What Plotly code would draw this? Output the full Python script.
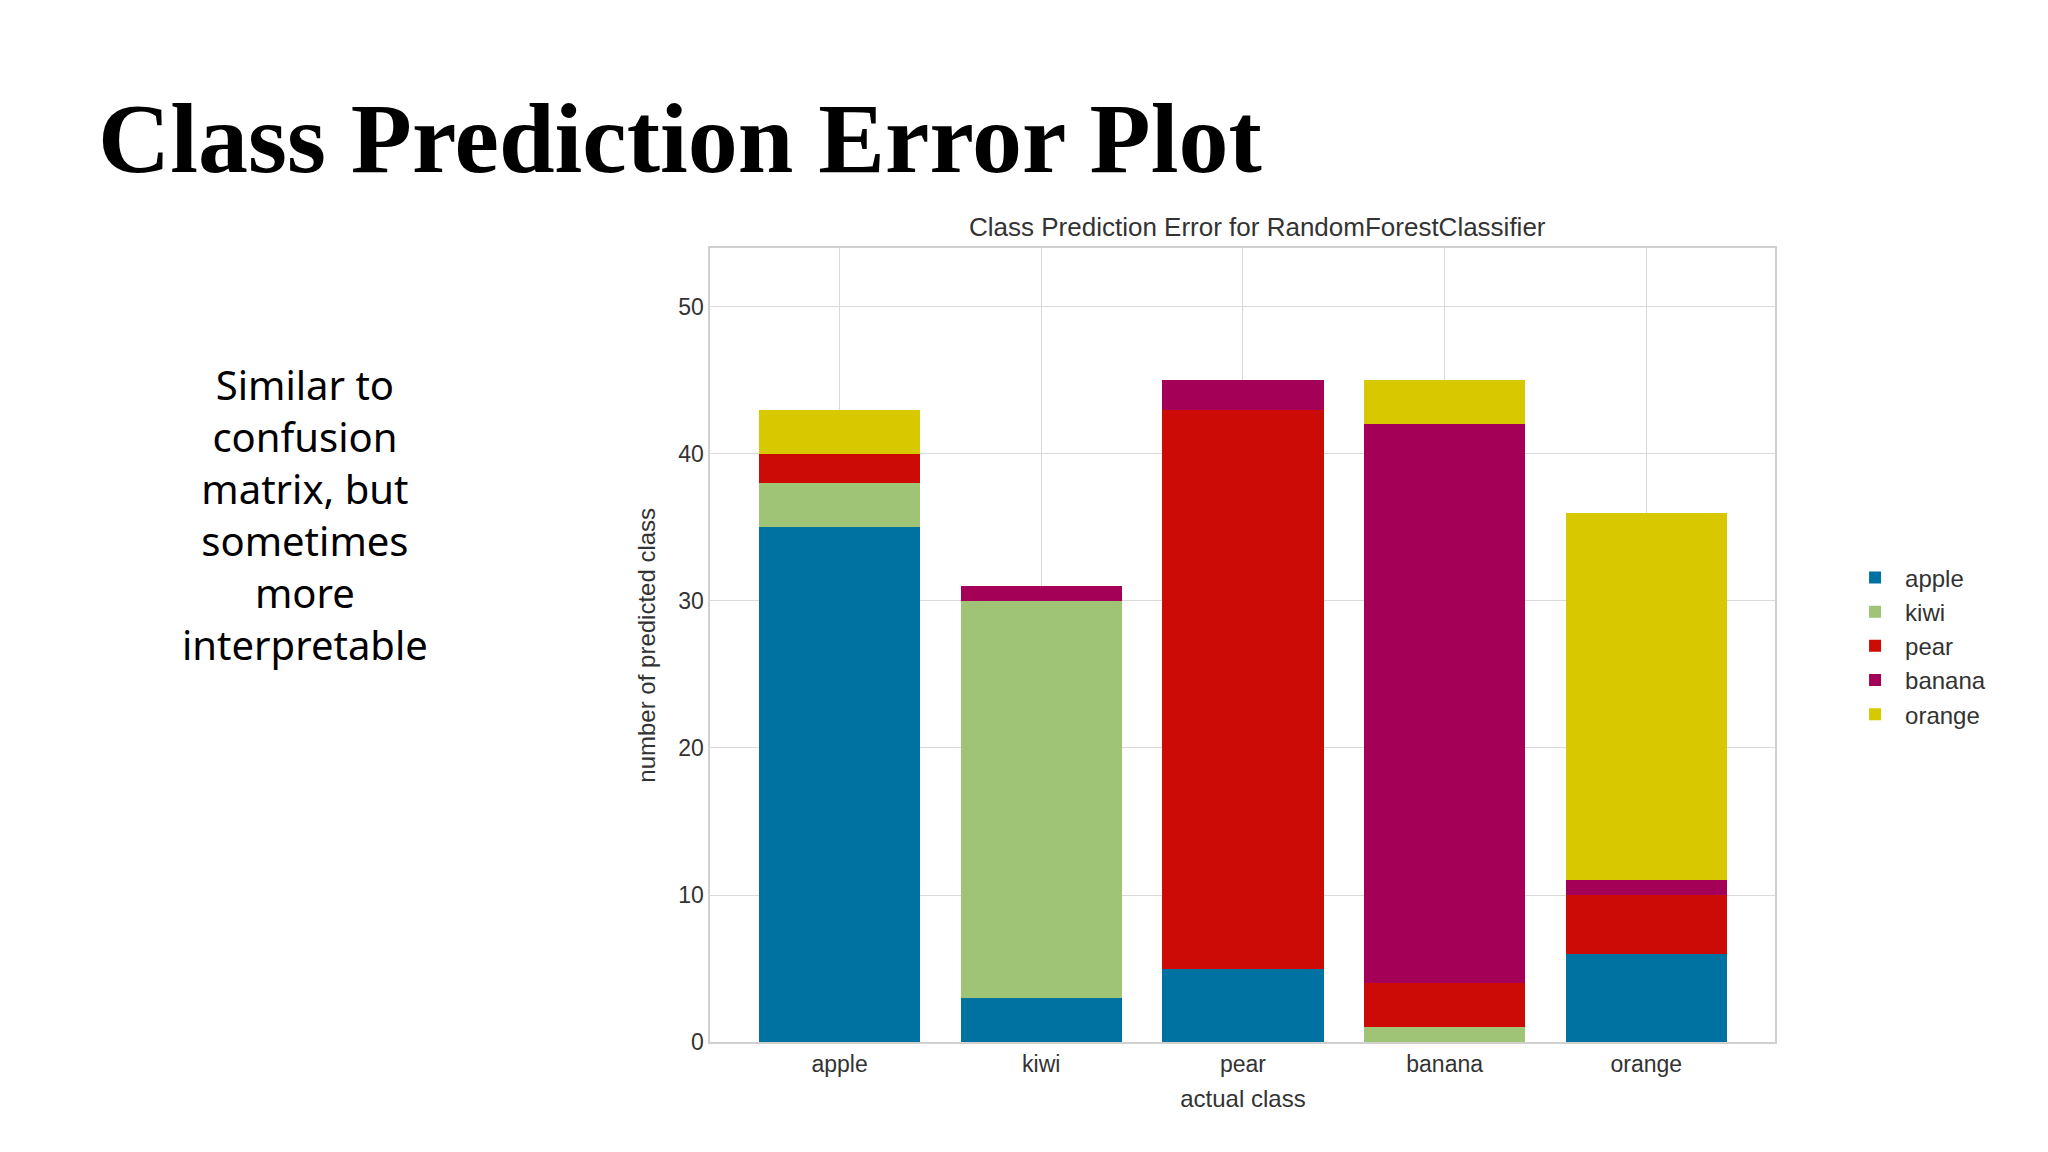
import plotly.graph_objects as go

classes = ["apple", "kiwi", "pear", "banana", "orange"]
pred_apple = [35, 3, 5, 0, 6]
pred_kiwi = [3, 27, 0, 1, 0]
pred_pear = [2, 0, 38, 3, 4]
pred_banana = [0, 1, 2, 38, 1]
pred_orange = [3, 0, 0, 3, 25]
series = [("apple", pred_apple, "#0072A2"), ("kiwi", pred_kiwi, "#A0C475"),
          ("pear", pred_pear, "#CC0A06"), ("banana", pred_banana, "#A50057"),
          ("orange", pred_orange, "#D7C800")]

fig = go.Figure()
for name, vals, col in series:
    fig.add_trace(go.Bar(x=classes, y=vals, name=name, marker_color=col,
                         marker_line_width=0, width=0.8))

fig.update_layout(
    barmode="stack", width=2048, height=1152, paper_bgcolor="white", plot_bgcolor="white",
    margin=dict(l=0, r=0, t=0, b=0), font=dict(family="Liberation Sans", color="#333"),
    xaxis=dict(domain=[0.343, 0.863], range=[-0.64, 4.64], showgrid=True, gridcolor="#d9d9d9",
               tickfont=dict(size=23), title=dict(text="actual class", font=dict(size=24), standoff=14),
               showline=True, mirror=True, linecolor="#d0d0d0", linewidth=2, ticks=""),
    yaxis=dict(domain=[0.092, 0.789], range=[0, 53.96], dtick=10, showgrid=True, gridcolor="#d9d9d9",
               tickfont=dict(size=23), title=dict(text="number of predicted class", font=dict(size=24), standoff=16),
               showline=True, mirror=True, linecolor="#d0d0d0", linewidth=2, zeroline=False, ticks=""),
    legend=dict(x=0.897, y=0.44, yanchor="middle", font=dict(size=24), traceorder="normal",
                itemsizing="constant", itemwidth=50, bgcolor="rgba(0,0,0,0)"),
    annotations=[
        dict(text="<b>Class Prediction Error Plot</b>", x=0.043, y=0.885, xref="paper", yref="paper",
             xanchor="left", yanchor="middle", showarrow=False,
             font=dict(family="Liberation Serif", size=100, color="black")),
        dict(text="Class Prediction Error for RandomForestClassifier", x=0.61, y=0.808, xref="paper",
             yref="paper", xanchor="center", yanchor="middle", showarrow=False,
             font=dict(size=26, color="#333")),
        dict(text="Similar to<br>confusion<br>matrix, but<br>sometimes<br>more<br>interpretable",
             x=0.145, y=0.555, xref="paper", yref="paper", xanchor="center", yanchor="middle",
             showarrow=False, align="center", font=dict(family="Noto Sans", size=40, color="black")),
    ],
)
fig.write_html("out.html")
